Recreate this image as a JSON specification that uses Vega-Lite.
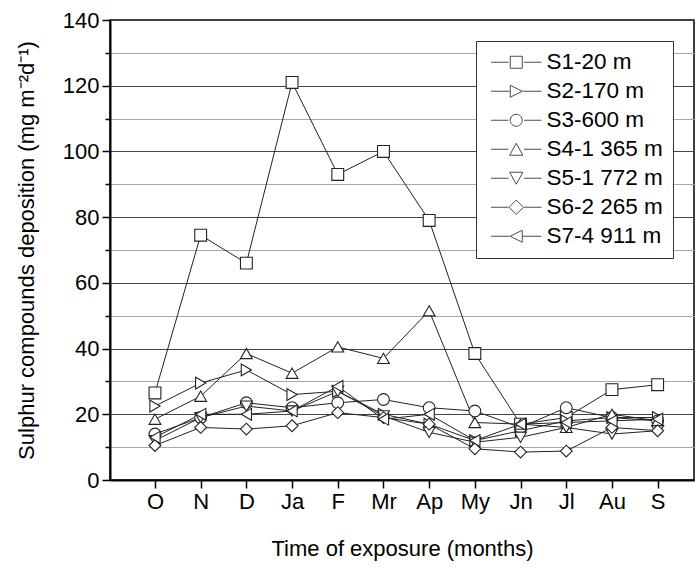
{
  "$schema": "https://vega.github.io/schema/vega-lite/v6.json",
  "width": 584,
  "height": 460,
  "autosize": {"type": "none"},
  "padding": {"left": 110, "top": 20, "right": 1, "bottom": 88},
  "background": "white",
  "config": {
    "font": "Liberation Sans",
    "view": {"stroke": "black", "strokeWidth": 1.5},
    "axis": {"labelFont": "Liberation Sans", "titleFont": "Liberation Sans", "labelColor": "black", "titleColor": "black", "titleFontWeight": "normal"}
  },
  "data": {"values": [
    {"series": "S1-20 m", "month": "O", "value": 26.5}, {"series": "S1-20 m", "month": "N", "value": 74.5}, {"series": "S1-20 m", "month": "D", "value": 66}, {"series": "S1-20 m", "month": "Ja", "value": 121}, {"series": "S1-20 m", "month": "F", "value": 93}, {"series": "S1-20 m", "month": "Mr", "value": 100}, {"series": "S1-20 m", "month": "Ap", "value": 79}, {"series": "S1-20 m", "month": "My", "value": 38.5}, {"series": "S1-20 m", "month": "Jn", "value": 17}, {"series": "S1-20 m", "month": "Jl", "value": 19}, {"series": "S1-20 m", "month": "Au", "value": 27.5}, {"series": "S1-20 m", "month": "S", "value": 29},
    {"series": "S2-170 m", "month": "O", "value": 22.5}, {"series": "S2-170 m", "month": "N", "value": 29.5}, {"series": "S2-170 m", "month": "D", "value": 33.5}, {"series": "S2-170 m", "month": "Ja", "value": 26}, {"series": "S2-170 m", "month": "F", "value": 27}, {"series": "S2-170 m", "month": "Mr", "value": 20}, {"series": "S2-170 m", "month": "Ap", "value": 17}, {"series": "S2-170 m", "month": "My", "value": 12}, {"series": "S2-170 m", "month": "Jn", "value": 15}, {"series": "S2-170 m", "month": "Jl", "value": 18}, {"series": "S2-170 m", "month": "Au", "value": 19}, {"series": "S2-170 m", "month": "S", "value": 19},
    {"series": "S3-600 m", "month": "O", "value": 14}, {"series": "S3-600 m", "month": "N", "value": 19}, {"series": "S3-600 m", "month": "D", "value": 23.5}, {"series": "S3-600 m", "month": "Ja", "value": 22}, {"series": "S3-600 m", "month": "F", "value": 23.5}, {"series": "S3-600 m", "month": "Mr", "value": 24.5}, {"series": "S3-600 m", "month": "Ap", "value": 22}, {"series": "S3-600 m", "month": "My", "value": 21}, {"series": "S3-600 m", "month": "Jn", "value": 16}, {"series": "S3-600 m", "month": "Jl", "value": 22}, {"series": "S3-600 m", "month": "Au", "value": 19}, {"series": "S3-600 m", "month": "S", "value": 18},
    {"series": "S4-1 365 m", "month": "O", "value": 18.5}, {"series": "S4-1 365 m", "month": "N", "value": 25.5}, {"series": "S4-1 365 m", "month": "D", "value": 38.5}, {"series": "S4-1 365 m", "month": "Ja", "value": 32.5}, {"series": "S4-1 365 m", "month": "F", "value": 40.5}, {"series": "S4-1 365 m", "month": "Mr", "value": 37}, {"series": "S4-1 365 m", "month": "Ap", "value": 51.5}, {"series": "S4-1 365 m", "month": "My", "value": 17.5}, {"series": "S4-1 365 m", "month": "Jn", "value": 17}, {"series": "S4-1 365 m", "month": "Jl", "value": 16}, {"series": "S4-1 365 m", "month": "Au", "value": 20}, {"series": "S4-1 365 m", "month": "S", "value": 18},
    {"series": "S5-1 772 m", "month": "O", "value": 12}, {"series": "S5-1 772 m", "month": "N", "value": 19}, {"series": "S5-1 772 m", "month": "D", "value": 22.5}, {"series": "S5-1 772 m", "month": "Ja", "value": 21}, {"series": "S5-1 772 m", "month": "F", "value": 27}, {"series": "S5-1 772 m", "month": "Mr", "value": 19.5}, {"series": "S5-1 772 m", "month": "Ap", "value": 14.5}, {"series": "S5-1 772 m", "month": "My", "value": 11.5}, {"series": "S5-1 772 m", "month": "Jn", "value": 13}, {"series": "S5-1 772 m", "month": "Jl", "value": 16}, {"series": "S5-1 772 m", "month": "Au", "value": 14}, {"series": "S5-1 772 m", "month": "S", "value": 15},
    {"series": "S6-2 265 m", "month": "O", "value": 10.5}, {"series": "S6-2 265 m", "month": "N", "value": 16}, {"series": "S6-2 265 m", "month": "D", "value": 15.5}, {"series": "S6-2 265 m", "month": "Ja", "value": 16.5}, {"series": "S6-2 265 m", "month": "F", "value": 20.5}, {"series": "S6-2 265 m", "month": "Mr", "value": 19}, {"series": "S6-2 265 m", "month": "Ap", "value": 17}, {"series": "S6-2 265 m", "month": "My", "value": 9.5}, {"series": "S6-2 265 m", "month": "Jn", "value": 8.5}, {"series": "S6-2 265 m", "month": "Jl", "value": 8.8}, {"series": "S6-2 265 m", "month": "Au", "value": 16}, {"series": "S6-2 265 m", "month": "S", "value": 15},
    {"series": "S7-4 911 m", "month": "O", "value": 13}, {"series": "S7-4 911 m", "month": "N", "value": 20}, {"series": "S7-4 911 m", "month": "D", "value": 20}, {"series": "S7-4 911 m", "month": "Ja", "value": 21}, {"series": "S7-4 911 m", "month": "F", "value": 28.5}, {"series": "S7-4 911 m", "month": "Mr", "value": 18.5}, {"series": "S7-4 911 m", "month": "Ap", "value": 20}, {"series": "S7-4 911 m", "month": "My", "value": 12}, {"series": "S7-4 911 m", "month": "Jn", "value": 17}, {"series": "S7-4 911 m", "month": "Jl", "value": 17.5}, {"series": "S7-4 911 m", "month": "Au", "value": 18}, {"series": "S7-4 911 m", "month": "S", "value": 18.5}
  ]},
  "encoding": {
    "x": {
      "field": "month", "type": "ordinal",
      "sort": ["O","N","D","Ja","F","Mr","Ap","My","Jn","Jl","Au","S"],
      "scale": {"type": "point", "padding": 0.89, "align": 0.553},
      "axis": {
        "title": "Time of exposure (months)", "titleFontSize": 22, "titlePadding": 26,
        "labelFontSize": 22, "labelAngle": 0, "labelPadding": 3,
        "domainColor": "black", "domainWidth": 2, "tickColor": "black", "tickWidth": 1.5, "tickSize": 8,
        "grid": false
      }
    },
    "y": {
      "field": "value", "type": "quantitative",
      "scale": {"domain": [0, 140], "nice": false, "zero": true},
      "axis": {
        "title": "Sulphur compounds deposition (mg m⁻²d⁻¹)", "titleFontSize": 22, "titlePadding": 24,
        "values": [0,10,20,30,40,50,60,70,80,90,100,110,120,130,140],
        "labelExpr": "datum.value % 20 === 0 ? datum.label : ''",
        "labelFontSize": 22, "labelPadding": 3,
        "domainColor": "black", "domainWidth": 2, "tickColor": "black", "tickWidth": 1.5,
        "tickSize": {"condition": {"test": "datum.value % 20 === 0", "value": 8}, "value": 5},
        "grid": true, "gridWidth": 1,
        "gridColor": {"condition": {"test": "datum.value % 20 === 0", "value": "#444444"}, "value": "#a8a8a8"}
      }
    }
  },
  "layer": [
    {
      "mark": {"type": "line", "color": "#222222", "strokeWidth": 1},
      "encoding": {"detail": {"field": "series"}}
    },
    {
      "mark": {"type": "point", "filled": true, "fill": "white", "stroke": "#222222", "strokeWidth": 1.1, "size": 140, "opacity": 1},
      "encoding": {
        "shape": {
          "field": "series", "type": "nominal",
          "scale": {
            "domain": ["S1-20 m","S2-170 m","S3-600 m","S4-1 365 m","S5-1 772 m","S6-2 265 m","S7-4 911 m"],
            "range": ["square","triangle-right","circle","triangle-up","triangle-down","diamond","triangle-left"]
          },
          "legend": null
        }
      }
    },
    {
      "transform": [{"filter": "datum.value < -1000"}],
      "mark": {"type": "point", "filled": false, "stroke": "black", "strokeWidth": 1, "size": 144},
      "encoding": {
        "shape": {
          "field": "series", "type": "nominal",
          "scale": {
            "domain": ["S1-20 m","S2-170 m","S3-600 m","S4-1 365 m","S5-1 772 m","S6-2 265 m","S7-4 911 m"],
            "range": [
              "M-4.2,0H-1.3M1.3,0H4.2M-1,-1H1V1H-1Z",
              "M-4.2,0H-1.1M1.1,0H4.2M-1,-1L1,0L-1,1Z",
              "M-4.2,0H-1.3M1.3,0H4.2M1,0A1,1,0,1,1,-1,0A1,1,0,1,1,1,0Z",
              "M-4.2,0H-1.3M1.3,0H4.2M0,-1L1.1,1H-1.1Z",
              "M-4.2,0H-1.3M1.3,0H4.2M-1.1,-1H1.1L0,1Z",
              "M-4.2,0H-1.3M1.3,0H4.2M0,-1.2L1.2,0L0,1.2L-1.2,0Z",
              "M-4.2,0H-1.1M1.1,0H4.2M1,-1L-1,0L1,1Z"
            ]
          },
          "legend": {
            "title": null, "orient": "top-right", "offset": 21,
            "labelFont": "Liberation Sans", "labelFontSize": 22.5, "labelColor": "black",
            "symbolSize": 144, "symbolStrokeWidth": 1, "symbolStrokeColor": "black", "symbolFillColor": "transparent",
            "symbolOffset": 19, "labelOffset": 19, "rowPadding": 6,
            "padding": 10, "strokeColor": "#333333", "fillColor": "white"
          }
        }
      }
    }
  ],
  "resolve": {"scale": {"shape": "independent"}}
}
